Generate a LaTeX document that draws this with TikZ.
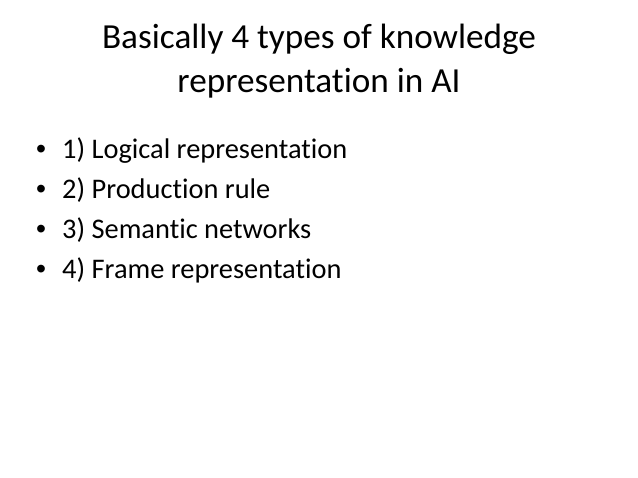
\documentclass[tikz,border=0pt]{standalone}
\usepackage{fontspec}
\setmainfont{Carlito}[Ligatures=NoCommon]
\newfontfamily\bulletfont{Liberation Sans}
\begin{document}
\begin{tikzpicture}[x=1pt,y=1pt,
  titletext/.style={anchor=base,inner sep=0pt,font=\fontsize{35.2}{44}\selectfont},
  itemtext/.style={anchor=base west,inner sep=0pt,font=\fontsize{28.4}{34}\selectfont},
  bulletmark/.style={anchor=base west,inner sep=0pt,font=\bulletfont\fontsize{28.4}{34}\selectfont}]
\useasboundingbox[fill=white] (0,0) rectangle (638,478);
\node[titletext] (t1) at (319,478-49) {Basically 4 types of knowledge};
\node[titletext] (t2) at (319,478-93) {representation in AI};
\node[bulletmark] (b1) at (36,478-159) {•};
\node[itemtext] (i1) at (62,478-159) {1) Logical representation};
\node[bulletmark] (b2) at (36,478-199) {•};
\node[itemtext] (i2) at (62,478-199) {2) Production rule};
\node[bulletmark] (b3) at (36,478-239) {•};
\node[itemtext] (i3) at (62,478-239) {3) Semantic networks};
\node[bulletmark] (b4) at (36,478-279) {•};
\node[itemtext] (i4) at (62,478-279) {4) Frame representation};
\end{tikzpicture}
\end{document}
